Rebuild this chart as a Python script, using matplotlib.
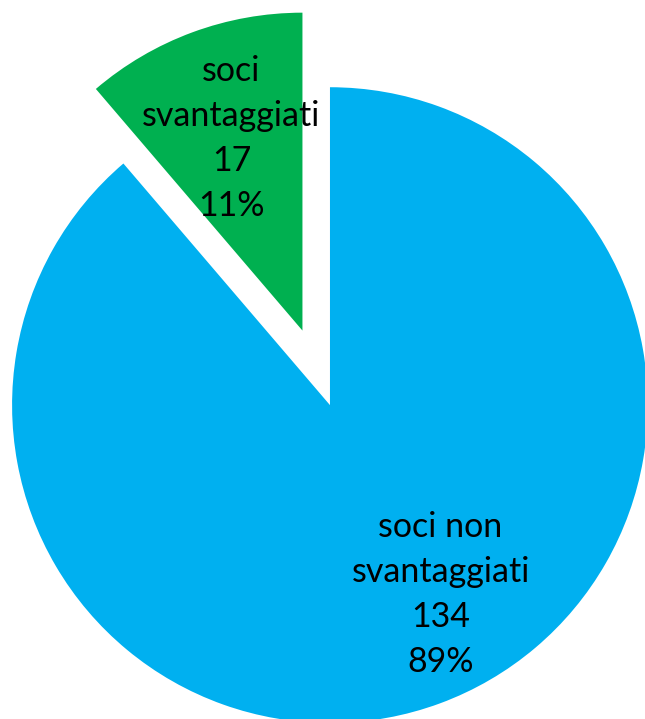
import numpy as np
import matplotlib
matplotlib.use("Agg")
import matplotlib.pyplot as plt

categories = ["soci non\nsvantaggiati", "soci\nsvantaggiati"]
values = [134, 17]
colors = ["#00B0F0", "#00B050"]
explode = [0.0, 0.25]
label_angle_offset = [10.0, 0.0]
label_dist = [0.69, 0.645]

plt.rcParams['font.family'] = ['Lato', 'DejaVu Sans']

fig = plt.figure(figsize=(6.45, 7.19), dpi=100)
ax = fig.add_axes([0, 0, 1, 1])
wedges, _ = ax.pie(values, colors=colors, explode=explode, startangle=90,
                   counterclock=False, radius=1.0,
                   wedgeprops=dict(linewidth=0))
total = sum(values)
for w, cat, v, off, d in zip(wedges, categories, values, label_angle_offset, label_dist):
    ang = np.deg2rad((w.theta1 + w.theta2) / 2 + off)
    cx, cy = w.center
    pct = round(100 * v / total)
    ax.text(cx + d * np.cos(ang), cy + d * np.sin(ang),
            f"{cat}\n{v}\n{pct}%", ha='center', va='center',
            fontsize=24.5, linespacing=1.5, color='black')

ax.set_xlim(-1.038, 0.991)
ax.set_ylim(-0.987, 1.274)
ax.set_aspect('equal')
ax.axis('off')
fig.savefig("out.png", dpi=100)
